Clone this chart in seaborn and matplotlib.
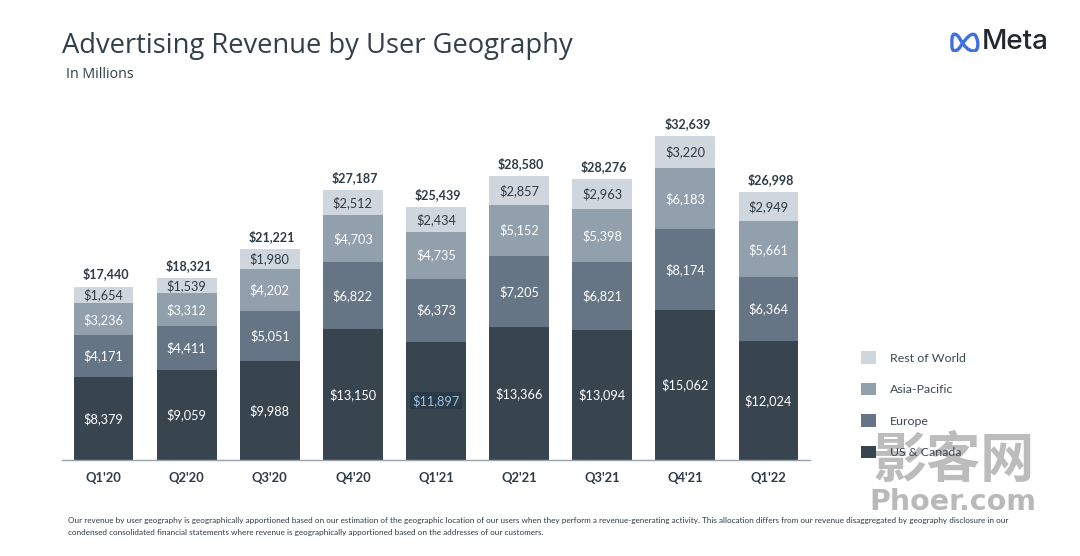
import numpy as np
import pandas as pd
import matplotlib
matplotlib.use("Agg")
import matplotlib.pyplot as plt
from matplotlib.path import Path
from matplotlib.patches import PathPatch
import seaborn as sns

quarters = ["Q1'20", "Q2'20", "Q3'20", "Q4'20", "Q1'21", "Q2'21", "Q3'21", "Q4'21", "Q1'22"]
us_canada = [8379, 9059, 9988, 13150, 11897, 13366, 13094, 15062, 12024]
europe = [4171, 4411, 5051, 6822, 6373, 7205, 6821, 8174, 6364]
asia_pacific = [3236, 3312, 4202, 4703, 4735, 5152, 5398, 6183, 5661]
rest_of_world = [1654, 1539, 1980, 2512, 2434, 2857, 2963, 3220, 2949]
totals = [17440, 18321, 21221, 27187, 25439, 28580, 28276, 32639, 26998]

series_names = ["US & Canada", "Europe", "Asia-Pacific", "Rest of World"]
series_values = [us_canada, europe, asia_pacific, rest_of_world]
series_colors = ["#38454f", "#667585", "#929fad", "#d0d6de"]
label_colors = ["white", "white", "white", "#2f3b47"]

footnote_1 = ("Our revenue by user geography is geographically apportioned based on our estimation of the geographic "
              "location of our users when they perform a revenue-generating activity. This allocation differs from "
              "our revenue disaggregated by geography disclosure in our")
footnote_2 = ("condensed consolidated financial statements where revenue is geographically apportioned "
              "based on the addresses of our customers.")

W, H = 1080, 556
sns.set_theme(style="white")
plt.rcParams["font.family"] = ["Lato", "DejaVu Sans"]
text_col = "#2f3b47"

fig = plt.figure(figsize=(W / 100, H / 100), dpi=100, facecolor="white")
ax = fig.add_axes([62 / W, 1 - 460 / H, 748 / W, 360 / H])

df = pd.DataFrame({"quarter": quarters})
bottom = np.zeros(len(quarters))
for name, vals, col, lab_col in zip(series_names, series_values, series_colors, label_colors):
    df["value"] = vals
    sns.barplot(data=df, x="quarter", y="value", bottom=bottom, color=col, width=0.72,
                saturation=1, label=name, ax=ax, linewidth=0, errorbar=None)
    for i, v in enumerate(vals):
        if name == "US & Canada" and quarters[i] == "Q1'21":
            # this one label is highlighted in the source slide
            kw = dict(color="#9cc0dc", bbox=dict(facecolor="#2b3a48", edgecolor="none", pad=1.5))
        else:
            kw = dict(color=lab_col)
        ax.text(i, bottom[i] + v / 2, f"${v:,}", ha="center", va="center", fontsize=9.2, **kw)
    bottom = bottom + np.array(vals)

for i, t in enumerate(totals):
    ax.annotate(f"${t:,}", (i, bottom[i]), xytext=(1.5, 4.5), textcoords="offset points", ha="center", va="bottom",
                fontsize=9, fontweight="bold", color=text_col)

ax.set_xlim(-0.5, 8.5)
ax.set_ylim(0, 36250)
ax.set_xlabel("")
ax.set_ylabel("")
ax.set_yticks([])
sns.despine(ax=ax, left=True)
ax.spines["bottom"].set_color("#9aa3ad")
ax.spines["bottom"].set_linewidth(1)
ax.tick_params(axis="x", length=0, pad=9, labelsize=9.4, labelcolor=text_col)
for lab in ax.get_xticklabels():
    lab.set_fontweight("bold")
ax.legend().remove()

# legend, top down
handles, labels = ax.get_legend_handles_labels()
fig.legend(handles[::-1], labels[::-1], loc="upper left", bbox_to_anchor=(861 / W, 1 - 351 / H), frameon=False,
           fontsize=8.9, labelcolor="#3b4855", handlelength=1.21, handleheight=1.21, handletextpad=1.13,
           labelspacing=1.52, borderpad=0, borderaxespad=0)

fig.text(62 / W, 1 - 46 / H, "Advertising Revenue by User Geography", family=["Open Sans", "DejaVu Sans"],
         fontsize=19.7, color="#333f4b", va="center")
fig.text(66 / W, 1 - 75 / H, "In Millions", family=["Open Sans", "DejaVu Sans"], fontsize=10.2, color=text_col, va="center")

fig.text(68 / W, 1 - 520 / H, footnote_1, fontsize=5.9, color=text_col, va="center")
fig.text(68 / W, 1 - 533 / H, footnote_2, fontsize=5.9, color=text_col, va="center")

# Meta logo
fig.text(982 / W, 1 - 42 / H, "Meta", fontsize=20, fontweight="medium", color="#22282e", va="center",
         family=["Inter", "DejaVu Sans"])
logo = fig.add_axes([948 / W, 1 - 52 / H, 32 / W, 20 / H])
logo.axis("off")
logo.set_xlim(0, 32)
logo.set_ylim(0, 20)
codes = [Path.MOVETO] + [Path.CURVE4] * 12
verts = [(4, 9), (3, 20), (8, 20), (12, 13), (16, 6), (20, 1), (26, 1), (31, 1), (31, 12), (27, 17),
         (23, 20), (18, 13), (14, 8)]
logo.add_patch(PathPatch(Path(verts, codes), fill=False, edgecolor="#3f6fe0", linewidth=2.4))
codes2 = [Path.MOVETO] + [Path.CURVE4] * 3
logo.add_patch(PathPatch(Path([(4, 9), (3, -2), (9, -1), (14, 8)], codes2), fill=False, edgecolor="#3f6fe0", linewidth=2.4))

# watermark over the legend corner
fig.text(954 / W, 1 - 462 / H, "影客网", family=["Noto Sans CJK SC", "DejaVu Sans"], fontsize=39, fontweight="bold",
         color="#b5b5b5", alpha=0.9, ha="center", va="center")
fig.text(953 / W, 1 - 502 / H, "Phoer.com", family=["DejaVu Sans"], fontsize=20.5, fontweight="bold",
         color="#b5b5b5", alpha=0.95, ha="center", va="center")

fig.savefig("out.png", dpi=100)
plt.close(fig)
